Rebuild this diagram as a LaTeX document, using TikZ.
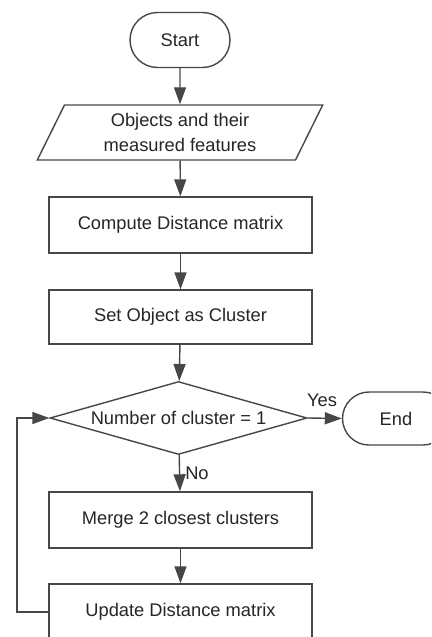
\documentclass[tikz,border=0pt]{standalone}
\usepackage{fontspec}
\setmainfont{Liberation Sans}
\usetikzlibrary{shapes.geometric,shapes.misc,arrows.meta}
\begin{document}
\begin{tikzpicture}[x=1pt,y=-1pt,
 every node/.style={font=\fontsize{18.3}{25}\selectfont, text=black!85, inner sep=0pt},
 line/.style={draw=black!72, line width=1.4pt},
 box/.style={line, rectangle, minimum width=263pt, minimum height=56pt},
 term/.style={line, rounded rectangle, minimum height=55pt},
 conn/.style={line, -{Triangle[length=17pt,width=12pt]}}]
\path[fill=white] (0,0) rectangle (431,637);
\clip (0,0) rectangle (431,637);
\node[term, minimum width=100pt] (start) at (180,40) {Start};
\node[line, trapezium, trapezium stretches=true, trapezium left angle=65, trapezium right angle=115,
      minimum width=286pt, minimum height=55pt, align=center] (io) at (180,132.5) {Objects and their\\measured features};
\node[box] (dist) at (180.5,225) {Compute Distance matrix};
\node[box, minimum height=54pt] (set) at (180.5,317) {Set Object as Cluster};
\node[line, diamond, aspect=3.5, minimum width=257pt, minimum height=73pt] (dec) at (178.5,418) {Number of cluster = 1};
\node[term, minimum width=107pt, minimum height=53pt] (end) at (396,418.5) {End};
\node[box] (merge) at (180.5,520) {Merge 2 closest clusters};
\node[box] (upd) at (180.5,612) {Update Distance matrix};
\coordinate (lb) at (17,612);
\coordinate (lt) at (17,418);
\draw[conn] (start) -- (io);
\draw[conn] (io) -- (dist);
\draw[conn] (dist) -- (set);
\draw[conn] (set) -- (dec);
\draw[conn] (dec) -- node[pos=0.5, right=5pt] {No} (merge);
\draw[conn] (dec.east) -- node[above=11pt, pos=0.42] {Yes} (end.west);
\draw[conn] (merge) -- (upd);
\draw[conn] (upd.west) -- (lb) -- (lt) -- (dec.west);
\end{tikzpicture}
\end{document}
